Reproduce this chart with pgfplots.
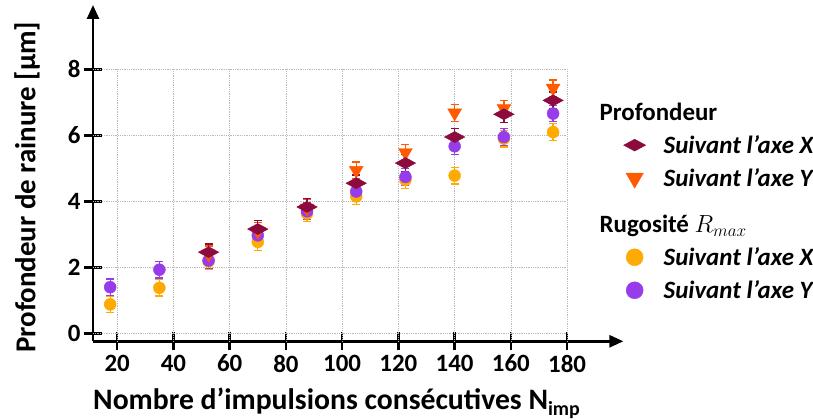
\documentclass[border=0pt]{standalone}
\usepackage{fontspec}
\setmainfont{Carlito}
\usepackage{pgfplots}
\pgfplotsset{compat=1.18}
\usetikzlibrary{arrows.meta}
\definecolor{cDia}{RGB}{140,10,60}
\definecolor{cTri}{RGB}{255,90,0}
\definecolor{cOra}{RGB}{255,170,0}
\definecolor{cPur}{RGB}{150,60,235}
\pgfplotstableread{
x y e
17.5 0.88 0.25
35 1.38 0.25
52.5 2.18 0.25
70 2.77 0.25
87.5 3.63 0.25
105 4.15 0.25
122.5 4.65 0.25
140 4.78 0.25
157.5 5.90 0.25
175 6.10 0.25
}\rugX
\pgfplotstableread{
x y e
17.5 1.40 0.25
35 1.93 0.25
52.5 2.21 0.25
70 2.97 0.25
87.5 3.70 0.25
105 4.30 0.25
122.5 4.74 0.25
140 5.67 0.25
157.5 5.95 0.25
175 6.66 0.25
}\rugY
\pgfplotstableread{
x y e
52.5 2.40 0.25
70 3.10 0.25
87.5 3.80 0.25
105 4.94 0.25
122.5 5.48 0.25
140 6.68 0.25
157.5 6.81 0.25
175 7.43 0.25
}\profY
\pgfplotstableread{
x y e
52.5 2.46 0.25
70 3.16 0.25
87.5 3.83 0.25
105 4.55 0.25
122.5 5.16 0.25
140 5.95 0.25
157.5 6.64 0.25
175 7.06 0.25
}\profX
\begin{document}
\begin{tikzpicture}[font=\bfseries]
\begin{axis}[
  name=ax,
  scale only axis,
  width=530.4bp, height=336.3bp,
  xmin=11.4, xmax=200, ymin=-0.24, ymax=9.95,
  axis lines=left,
  axis line style={line width=2.6bp, -{Triangle[length=14bp,width=12bp]}},
  xtick={20,40,...,180}, ytick={0,2,4,6,8},
  tick align=center,
  major tick length=18bp,
  tick style={line width=2.4bp, black},
  /pgf/number format/assume math mode=true,
  ticklabel style={font=\fontsize{25}{28}\selectfont\bfseries},
  xticklabel style={yshift=-1bp},
  yticklabel style={xshift=0bp},
  xlabel={Nombre d’impulsions consécutives N\raisebox{-0.45ex}{\fontsize{20}{22}\selectfont imp}},
  ylabel={Profondeur de rainure [µm]},
  xlabel style={font=\fontsize{29.8}{32}\selectfont\bfseries, at={(rel axis cs:0,0)}, anchor=north west, yshift=-46bp, inner sep=0pt},
  ylabel style={font=\fontsize{29}{32}\selectfont\bfseries, at={(rel axis cs:-0.1244,0.458)}, anchor=center, inner sep=0pt},
  legend style={at={(rel axis cs:0.9766,0.7214)}, anchor=north west, draw=none, fill=none,
    font=\fontsize{25}{28}\selectfont\bfseries\itshape, row sep=9.6bp,
    cells={anchor=west},
    /tikz/every odd column/.append style={column sep=16bp}},
  legend image post style={xshift=12bp},
  legend cell align=left,
  clip=false,
]
\pgfplotsinvokeforeach{20,40,60,80,100,120,140,160,180}{
  \draw[gray!55, densely dotted, line width=0.8bp] (axis cs:#1,-0.24) -- (axis cs:#1,8);
}
\pgfplotsinvokeforeach{0,2,4,6,8}{
  \draw[gray!55, densely dotted, line width=0.8bp] (axis cs:11.4,#1) -- (axis cs:180,#1);
}
\addplot[forget plot, only marks, color=cOra, mark=*, mark size=6bp,
  error bars/.cd, y dir=both, y explicit,
  error bar style={line width=1.3bp, cOra},
  error mark options={rotate=90, mark size=4bp, line width=1.3bp, cOra}]
  table[x=x, y=y, y error=e]{\rugX};
\addplot[forget plot, only marks, color=cPur, mark=*, mark size=6bp,
  error bars/.cd, y dir=both, y explicit,
  error bar style={line width=1.3bp, cPur},
  error mark options={rotate=90, mark size=4bp, line width=1.3bp, cPur}]
  table[x=x, y=y, y error=e]{\rugY};
\addplot[forget plot, only marks, color=cTri, mark=triangle*, mark size=8bp, mark options={rotate=180},
  error bars/.cd, y dir=both, y explicit,
  error bar style={line width=1.3bp, cTri},
  error mark options={rotate=90, mark size=4bp, line width=1.3bp, cTri}]
  table[x=x, y=y, y error=e]{\profY};
\addplot[forget plot, only marks, color=cDia, mark=diamond*, mark size=6.5bp, mark options={xscale=2.1, yscale=0.85},
  error bars/.cd, y dir=both, y explicit,
  error bar style={line width=1.3bp, cDia},
  error mark options={rotate=90, mark size=4bp, line width=1.3bp, cDia}]
  table[x=x, y=y, y error=e]{\profX};
\addlegendimage{empty legend}
\addlegendentry{\upshape\hspace*{-64bp}Profondeur}
\addlegendimage{only marks, mark=diamond*, color=cDia, mark size=7bp, mark options={xscale=2.1, yscale=0.85}}
\addlegendentry{Suivant l’axe X}
\addlegendimage{only marks, mark=triangle*, color=cTri, mark size=10bp, mark options={rotate=180}}
\addlegendentry{Suivant l’axe Y}
\addlegendimage{empty legend}
\addlegendentry{\upshape\rule{0pt}{31bp}\hspace*{-64bp}Rugosité $R_{max}$}
\addlegendimage{only marks, mark=*, color=cOra, mark size=8.5bp}
\addlegendentry{Suivant l’axe X}
\addlegendimage{only marks, mark=*, color=cPur, mark size=8.5bp}
\addlegendentry{Suivant l’axe Y}
\end{axis}
\pgfresetboundingbox
\path ([xshift=-93bp,yshift=-78bp]ax.south west) rectangle ([xshift=720bp,yshift=5bp]ax.north west);
\end{tikzpicture}
\end{document}
